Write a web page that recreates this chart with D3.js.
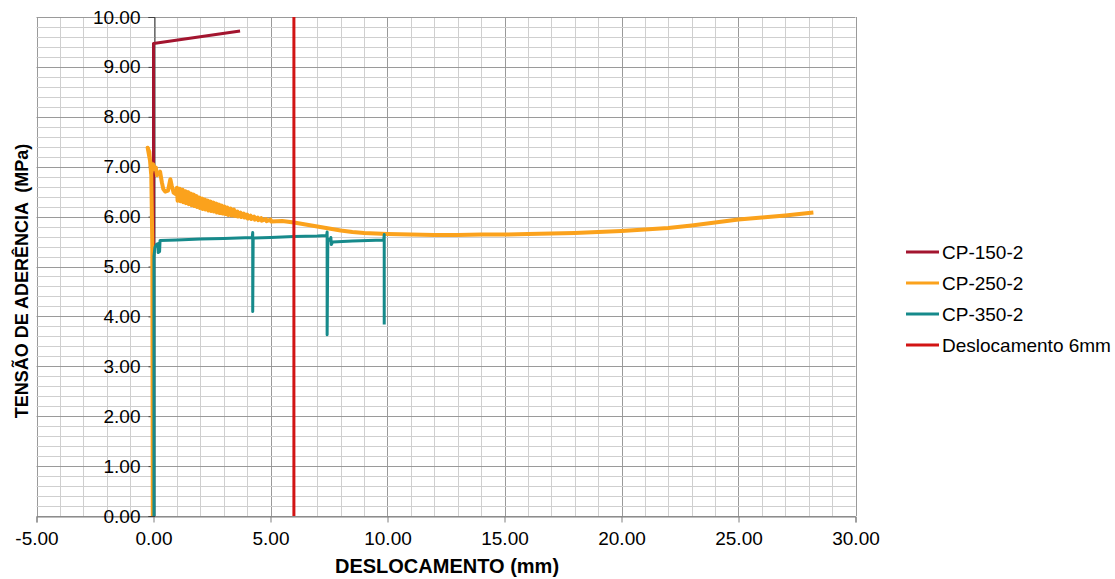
<!DOCTYPE html>
<html>
<head>
<meta charset="utf-8">
<script src="https://cdn.jsdelivr.net/npm/d3@7"></script>
<style>
  html, body { margin: 0; padding: 0; background: #fff; }
  svg { display: block; font-family: "Liberation Sans", Arial, sans-serif; }
</style>
</head>
<body>
<svg id="chart" width="1115" height="579"></svg>
<script>
// Bond stress vs. slip for three specimens plus the 6 mm slip reference line.
const seriesNames = ["CP-150-2", "CP-250-2", "CP-350-2", "Deslocamento 6mm"];
const seriesColors = ["#A3152F", "#FBA21C", "#168A8B", "#D21414"];

const xTicks = [-5, 0, 5, 10, 15, 20, 25, 30];
const yTicks = [0, 1, 2, 3, 4, 5, 6, 7, 8, 9, 10];

// CP-150-2: [slip mm, stress MPa]
const cp150 = [[0.0, 0.0], [0.0, 5.0], [0.0, 9.47], [3.7, 9.72]];

// CP-250-2
const cp250 = [
  [-0.03, 0.0], [-0.05, 5.4], [-0.1, 7.0], [-0.25, 7.38], [-0.18, 7.30], [-0.1, 6.85],
  [-0.02, 7.05], [0.05, 6.95], [0.1, 6.98], [0.15, 6.83], [0.28, 6.90], [0.36, 6.68],
  [0.42, 6.55], [0.5, 6.50], [0.62, 6.52], [0.72, 6.75], [0.78, 6.62], [0.86, 6.48],
  [0.95, 6.45],
  [1.00, 6.58], [1.03, 6.32], [1.12, 6.56], [1.15, 6.31], [1.24, 6.54], [1.27, 6.29],
  [1.36, 6.51], [1.39, 6.27], [1.48, 6.49], [1.51, 6.25], [1.60, 6.46], [1.63, 6.23],
  [1.72, 6.44], [1.75, 6.21], [1.84, 6.41], [1.87, 6.19], [1.96, 6.38], [1.99, 6.17],
  [2.08, 6.36], [2.11, 6.15], [2.20, 6.34], [2.23, 6.14], [2.32, 6.32], [2.35, 6.12],
  [2.44, 6.30], [2.47, 6.11], [2.56, 6.28], [2.59, 6.10], [2.68, 6.26], [2.71, 6.08],
  [2.80, 6.24], [2.83, 6.07], [2.92, 6.22], [2.95, 6.06], [3.04, 6.20], [3.07, 6.05],
  [3.16, 6.18], [3.19, 6.03], [3.30, 6.16], [3.33, 6.02], [3.44, 6.14], [3.47, 6.01],
  [3.58, 6.10], [3.61, 6.00], [3.72, 6.08], [3.75, 5.99], [3.86, 6.06], [3.89, 5.98],
  [4.00, 6.04], [4.03, 5.96], [4.15, 6.02], [4.18, 5.95], [4.30, 6.00], [4.33, 5.94],
  [4.45, 5.98], [4.48, 5.93], [4.60, 5.97], [4.63, 5.92], [4.80, 5.95], [4.83, 5.91],
  [5.00, 5.94], [5.03, 5.90],
  [5.5, 5.91], [6.0, 5.88], [6.5, 5.84], [7.0, 5.80], [7.5, 5.76], [8.0, 5.72],
  [8.5, 5.69], [9.0, 5.67], [9.5, 5.66], [10.0, 5.65], [11.0, 5.64], [12.0, 5.63],
  [13.0, 5.63], [14.0, 5.64], [15.0, 5.64], [16.0, 5.65], [17.0, 5.66], [18.0, 5.67],
  [19.0, 5.69], [20.0, 5.71], [21.0, 5.74], [22.0, 5.77], [23.0, 5.82], [24.0, 5.88],
  [25.0, 5.94], [26.0, 5.98], [27.0, 6.02], [28.0, 6.07], [28.2, 6.08]
];

// CP-350-2
const cp350 = [
  [0.02, 0.0], [0.02, 5.2], [0.06, 5.38], [0.14, 5.45], [0.2, 5.46], [0.2, 5.28],
  [0.26, 5.30], [0.28, 5.52], [1.0, 5.53], [2.0, 5.55], [3.0, 5.56], [4.22, 5.58],
  [4.24, 5.68], [4.24, 4.10], [4.26, 5.57], [5.0, 5.58], [6.0, 5.60], [7.0, 5.61],
  [7.40, 5.62], [7.42, 5.69], [7.42, 3.63], [7.45, 5.55], [7.55, 5.52], [7.58, 5.58],
  [7.60, 5.44], [7.65, 5.49], [8.5, 5.51], [9.84, 5.53], [9.86, 5.64], [9.86, 3.84]
];

// Reference line at 6 mm slip
const ref6 = [[6.0, 0.0], [6.0, 10.0]];

const FONT = "Liberation Sans, Arial, sans-serif";
const svg = d3.select("#chart");
const x = d3.scaleLinear().domain([-5, 30]).range([36.5, 855.5]);
const y = d3.scaleLinear().domain([0, 10]).range([516, 17]);

// Grid: minor every 1 mm / 0.2 MPa, major every 5 mm / 1 MPa
const grid = svg.append("g");
d3.range(-5, 30.001, 1).forEach(v => {
  const major = Math.abs(v % 5) < 1e-9;
  grid.append("line")
    .attr("x1", Math.round(x(v)) + 0.5).attr("x2", Math.round(x(v)) + 0.5)
    .attr("y1", y(10)).attr("y2", y(0))
    .attr("stroke", major ? "#9a9a9a" : "#cfcfcf").attr("stroke-width", 1);
});
d3.range(0, 50.5, 1).forEach(i => {
  const v = i * 0.2;
  const major = i % 5 === 0;
  grid.append("line")
    .attr("x1", x(-5)).attr("x2", x(30))
    .attr("y1", Math.round(y(v)) + 0.5).attr("y2", Math.round(y(v)) + 0.5)
    .attr("stroke", major ? "#9a9a9a" : "#cfcfcf").attr("stroke-width", 1);
});

// Axes crossing at the origin
const fmt = d => d.toFixed(2);
const xAxis = d3.axisBottom(x).tickValues(xTicks).tickSize(6).tickFormat(fmt);
const yAxis = d3.axisLeft(y).tickValues(yTicks).tickSize(6).tickFormat(fmt);

const gx = svg.append("g").attr("transform", `translate(0,${Math.round(y(0)) + 0.5})`).call(xAxis);
gx.select(".domain").attr("stroke", "#7f7f7f");
gx.selectAll(".tick line").attr("stroke", "#7f7f7f");
gx.selectAll(".tick text").attr("y", 22).attr("dy", "0.35em")
  .attr("font-size", 19).attr("font-family", FONT).attr("fill", "#000");

const gy = svg.append("g").attr("transform", `translate(${Math.round(x(0)) + 0.5},0)`).call(yAxis);
gy.select(".domain").attr("stroke", "#404040");
gy.selectAll(".tick line").attr("stroke", "#404040");
gy.selectAll(".tick text").attr("x", -14)
  .attr("font-size", 19).attr("font-family", FONT).attr("fill", "#000");

// Series
const line = d3.line().x(d => x(d[0])).y(d => y(d[1]));
const allSeries = [cp150, cp250, cp350, ref6];
const widths = [3, 4, 3, 3];
allSeries.forEach((s, i) => {
  svg.append("path").datum(s)
    .attr("d", line)
    .attr("fill", "none")
    .attr("stroke", seriesColors[i])
    .attr("stroke-width", widths[i])
    .attr("stroke-linejoin", "round");
});

// Axis titles
svg.append("text")
  .attr("x", 447).attr("y", 566).attr("dy", "0.35em")
  .attr("text-anchor", "middle").attr("font-size", 20).attr("font-weight", "bold")
  .attr("font-family", FONT)
  .text("DESLOCAMENTO (mm)");
svg.append("text")
  .attr("transform", "translate(22,281) rotate(-90)")
  .attr("dy", "0.35em")
  .attr("text-anchor", "middle").attr("font-size", 18).attr("font-weight", "bold")
  .attr("font-family", FONT)
  .attr("xml:space", "preserve")
  .text("TENSÃO DE ADERÊNCIA  (MPa)");

// Legend
const legend = svg.append("g");
seriesNames.forEach((name, i) => {
  const ly = 252 + i * 31;
  legend.append("line")
    .attr("x1", 906).attr("x2", 939).attr("y1", ly).attr("y2", ly)
    .attr("stroke", seriesColors[i]).attr("stroke-width", 3);
  legend.append("text")
    .attr("x", 942).attr("y", ly).attr("dy", "0.35em")
    .attr("font-size", 19).attr("font-family", FONT).attr("fill", "#000")
    .text(name);
});
</script>
</body>
</html>
